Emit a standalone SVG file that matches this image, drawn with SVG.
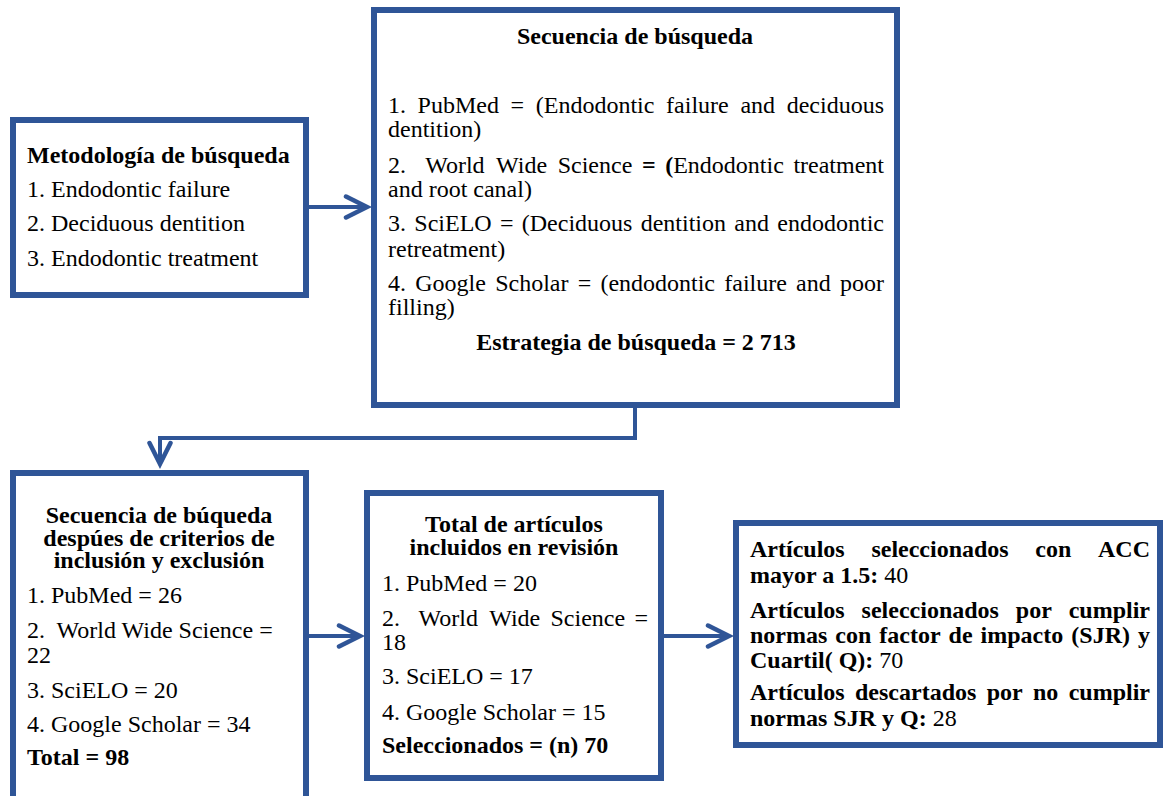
<svg xmlns="http://www.w3.org/2000/svg" width="1163" height="796" viewBox="0 0 1163 796">
<style>
text{font-family:"Liberation Serif","Times New Roman",serif;font-size:24px;fill:#000}
.b{font-weight:bold}
.box{fill:#fff;stroke:#2F5597;stroke-width:6}
.con{fill:none;stroke:#2F5597;stroke-width:4}
</style>
<defs>
<marker id="ah" markerUnits="userSpaceOnUse" markerWidth="30" markerHeight="30" viewBox="0 0 30 30" refX="24" refY="15" orient="auto">
<path d="M3,4.5 L24,15 L3,25.5" fill="none" stroke="#2F5597" stroke-width="4.5" stroke-linecap="round" stroke-linejoin="miter"/>
</marker>
</defs>
<rect width="1163" height="796" fill="#fff"/>
<g id="connectors">
<path class="con" d="M309,207 L367,207" marker-end="url(#ah)"/>
<path class="con" d="M635,407 L635,438 L160,438 L160,464" marker-end="url(#ah)"/>
<path class="con" d="M309,636 L360,636" marker-end="url(#ah)"/>
<path class="con" d="M664,636 L729,636" marker-end="url(#ah)"/>
</g>
<g id="metodologia">
<rect class="box" x="13" y="120" width="293" height="175"/>
<text class="b" x="27" y="163">Metodología de búsqueda</text>
<text x="27" y="197">1. Endodontic failure</text>
<text x="27" y="231">2. Deciduous dentition</text>
<text x="27" y="266">3. Endodontic treatment</text>
</g>
<g id="secuencia">
<rect class="box" x="374" y="10" width="523" height="395"/>
<text class="b" x="635" y="44" text-anchor="middle">Secuencia de búsqueda</text>
<text y="113"><tspan x="388">1.</tspan><tspan x="417.6">PubMed</tspan><tspan x="510.6">=</tspan><tspan x="535.8">(Endodontic</tspan><tspan x="666.1">failure</tspan><tspan x="740.4">and</tspan><tspan x="884" text-anchor="end">deciduous</tspan></text>
<text x="388" y="137">dentition)</text>
<text y="173"><tspan x="388">2.</tspan><tspan x="425.2">World</tspan><tspan x="496.1">Wide</tspan><tspan x="557.7">Science</tspan><tspan x="641.9" class="b">=</tspan><tspan x="665.2" class="b">(</tspan><tspan>Endodontic</tspan><tspan x="884" text-anchor="end">treatment</tspan></text>
<text x="388" y="197">and root canal)</text>
<text y="231"><tspan x="388">3.</tspan><tspan x="414.3">SciELO</tspan><tspan x="499.9">=</tspan><tspan x="521.8">(Deciduous</tspan><tspan x="640.7">dentition</tspan><tspan x="734.3">and</tspan><tspan x="884" text-anchor="end">endodontic</tspan></text>
<text x="388" y="257">retreatment)</text>
<text y="291"><tspan x="388">4.</tspan><tspan x="415.2">Google</tspan><tspan x="495.2">Scholar</tspan><tspan x="577.7">=</tspan><tspan x="600.4">(endodontic</tspan><tspan x="724.3">failure</tspan><tspan x="796.1">and</tspan><tspan x="884" text-anchor="end">poor</tspan></text>
<text x="388" y="315">filling)</text>
<text class="b" x="636" y="350" text-anchor="middle">Estrategia de búsqueda = 2 713</text>
</g>
<g id="criterios">
<rect class="box" x="13" y="473" width="293" height="345"/>
<text class="b" text-anchor="middle"><tspan x="159" y="523">Secuencia de búqueda</tspan><tspan x="159" y="546">despúes de criterios de</tspan><tspan x="159" y="568">inclusión y exclusión</tspan></text>
<text x="27" y="603">1. PubMed = 26</text>
<text x="27" y="638" xml:space="preserve">2.  World Wide Science =</text>
<text x="27" y="663">22</text>
<text x="27" y="698">3. SciELO = 20</text>
<text x="27" y="732">4. Google Scholar = 34</text>
<text class="b" x="27" y="765">Total = 98</text>
</g>
<g id="incluidos">
<rect class="box" x="367" y="493" width="294" height="285"/>
<text class="b" text-anchor="middle"><tspan x="514" y="532">Total de artículos</tspan><tspan x="514" y="555">incluidos en revisión</tspan></text>
<text x="382" y="591">1. PubMed = 20</text>
<text y="626"><tspan x="382">2.</tspan><tspan x="418.6">World</tspan><tspan x="489.2">Wide</tspan><tspan x="550.5">Science</tspan><tspan x="648" text-anchor="end">=</tspan></text>
<text x="382" y="650">18</text>
<text x="382" y="684">3. SciELO = 17</text>
<text x="382" y="720">4. Google Scholar = 15</text>
<text class="b" x="382" y="753">Seleccionados = (n) 70</text>
</g>
<g id="seleccion">
<rect class="box" x="736" y="523" width="424" height="222"/>
<text class="b" y="557"><tspan x="750">Artículos</tspan><tspan x="871.4">seleccionados</tspan><tspan x="1035.3">con</tspan><tspan x="1150" text-anchor="end">ACC</tspan></text>
<text x="750" y="583"><tspan class="b">mayor a 1.5:</tspan> 40</text>
<text class="b" y="618"><tspan x="750">Artículos</tspan><tspan x="861.6">seleccionados</tspan><tspan x="1015.8">por</tspan><tspan x="1150" text-anchor="end">cumplir</tspan></text>
<text class="b" y="643"><tspan x="750">normas</tspan><tspan x="835.3">con</tspan><tspan x="879.3">factor</tspan><tspan x="948.6">de</tspan><tspan x="980.6">impacto</tspan><tspan x="1071.3">(SJR)</tspan><tspan x="1150" text-anchor="end">y</tspan></text>
<text x="750" y="668"><tspan class="b">Cuartil( Q):</tspan> 70</text>
<text class="b" y="700"><tspan x="750">Artículos</tspan><tspan x="855">descartados</tspan><tspan x="986.7">por</tspan><tspan x="1033">no</tspan><tspan x="1150" text-anchor="end">cumplir</tspan></text>
<text x="750" y="726"><tspan class="b">normas SJR y Q:</tspan> 28</text>
</g>
</svg>
